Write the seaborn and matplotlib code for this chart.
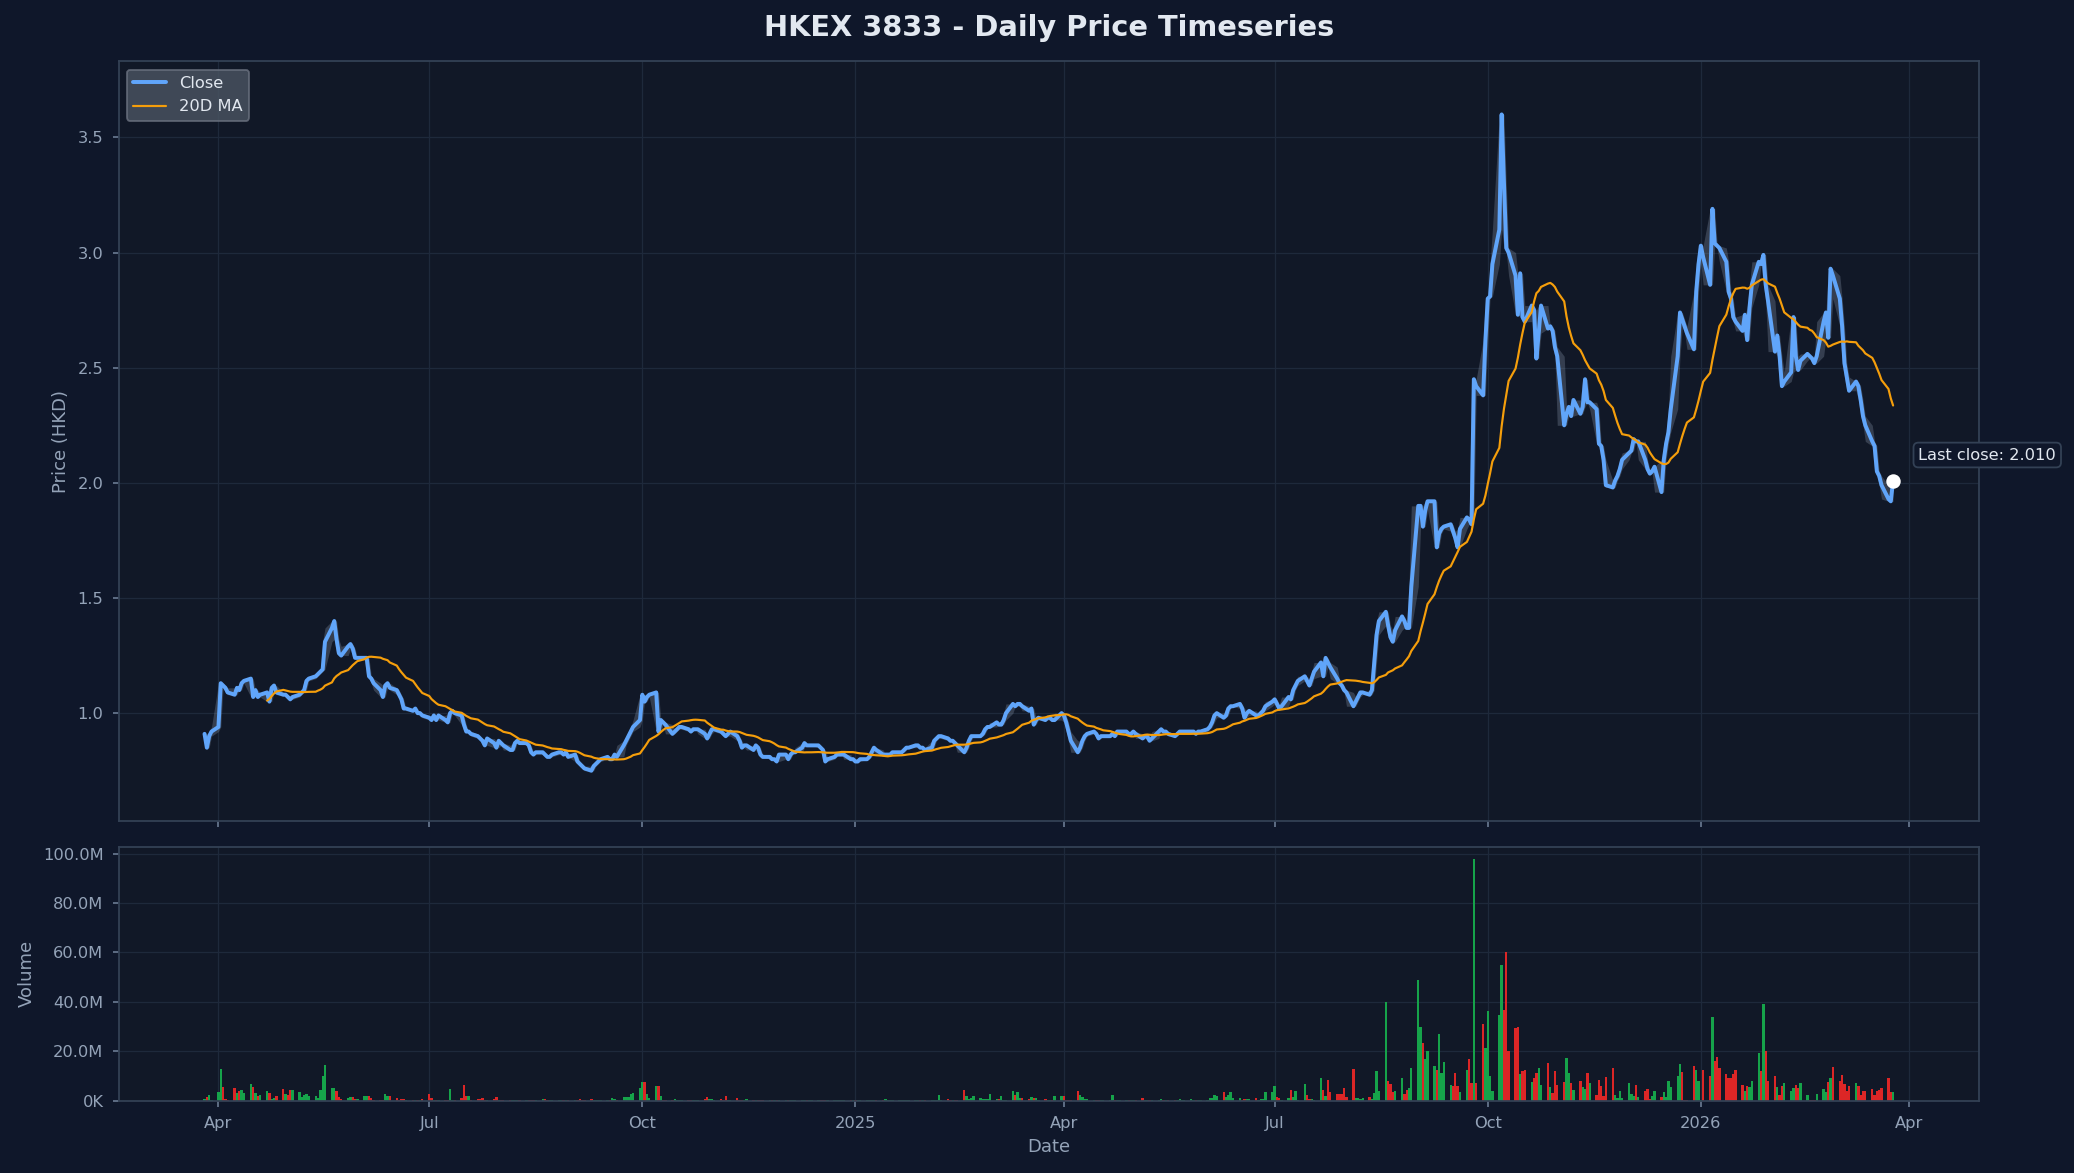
import matplotlib
matplotlib.use("Agg")
import matplotlib.pyplot as plt
import matplotlib.dates as mdates
from matplotlib.ticker import FuncFormatter
import numpy as np
import pandas as pd
import seaborn as sns

# daily close (HKD), business days, one line per month
close_2024 = [
    0.91, 0.85, 0.90, 0.92,  # Mar (from 26th)
    0.94, 1.13, 1.12, 1.11, 1.09, 1.08, 1.11, 1.10, 1.13, 1.14, 1.15, 1.07, 1.10, 1.07, 1.08, 1.09, 1.05, 1.11, 1.12, 1.09, 1.08, 1.08,
    1.07, 1.06, 1.07, 1.08, 1.09, 1.10, 1.14, 1.15, 1.16, 1.17, 1.18, 1.19, 1.31, 1.37, 1.40, 1.32, 1.26, 1.25, 1.29, 1.30, 1.28, 1.24, 1.24,
    1.24, 1.24, 1.16, 1.15, 1.13, 1.10, 1.07, 1.12, 1.13, 1.11, 1.10, 1.08, 1.06, 1.02, 1.02, 1.01, 1.02, 1.00, 1.00, 0.99,
    0.98, 0.97, 0.99, 0.97, 0.99, 0.97, 0.96, 1.00, 1.01, 1.00, 0.99, 0.95, 0.92, 0.92, 0.91, 0.90, 0.89, 0.88, 0.86, 0.89, 0.87, 0.85, 0.88,
    0.87, 0.86, 0.84, 0.84, 0.87, 0.88, 0.87, 0.87, 0.86, 0.83, 0.82, 0.83, 0.83, 0.82, 0.81, 0.81, 0.82, 0.83, 0.83, 0.82, 0.83, 0.81,
    0.82, 0.79, 0.78, 0.77, 0.76, 0.75, 0.77, 0.78, 0.79, 0.80, 0.81, 0.80, 0.80, 0.82, 0.81, 0.86, 0.88, 0.90, 0.92, 0.94, 0.97,
    1.08, 1.05, 1.07, 1.08, 1.09, 0.92, 0.97, 0.96, 0.95, 0.91, 0.92, 0.93, 0.94, 0.94, 0.93, 0.92, 0.93, 0.93, 0.93, 0.91, 0.89, 0.91, 0.93,
    0.93, 0.92, 0.91, 0.90, 0.91, 0.92, 0.90, 0.88, 0.85, 0.86, 0.86, 0.84, 0.86, 0.85, 0.82, 0.81, 0.81, 0.80, 0.80, 0.79, 0.82,
    0.82, 0.80, 0.82, 0.83, 0.83, 0.85, 0.87, 0.86, 0.86, 0.86, 0.86, 0.85, 0.84, 0.79, 0.80, 0.81, 0.82, 0.82, 0.82, 0.82, 0.80, 0.80,
]
close_2025 = [
    0.79, 0.79, 0.80, 0.80, 0.81, 0.83, 0.85, 0.84, 0.82, 0.82, 0.82, 0.82, 0.83, 0.83, 0.83, 0.84, 0.85, 0.85, 0.86, 0.86, 0.85, 0.85, 0.84,
    0.85, 0.88, 0.89, 0.90, 0.90, 0.89, 0.88, 0.88, 0.87, 0.86, 0.83, 0.85, 0.88, 0.90, 0.90, 0.90, 0.91, 0.93, 0.94, 0.94,
    0.96, 0.95, 0.95, 0.97, 1.00, 1.04, 1.03, 1.04, 1.04, 1.03, 1.01, 1.02, 0.95, 0.97, 0.98, 0.97, 0.98, 0.98, 0.97, 0.97, 1.00,
    0.99, 0.96, 0.92, 0.88, 0.83, 0.85, 0.88, 0.90, 0.91, 0.92, 0.91, 0.89, 0.90, 0.90, 0.90, 0.91, 0.90, 0.92, 0.92, 0.92, 0.91, 0.91,
    0.92, 0.91, 0.89, 0.90, 0.90, 0.88, 0.89, 0.92, 0.93, 0.92, 0.92, 0.91, 0.90, 0.91, 0.92, 0.92, 0.92, 0.92, 0.92, 0.91, 0.92, 0.92,
    0.93, 0.94, 0.96, 0.99, 1.00, 0.98, 0.99, 1.02, 1.03, 1.03, 1.04, 1.02, 0.98, 1.00, 1.01, 0.99, 0.99, 1.00, 1.01, 1.03, 1.05,
    1.06, 1.04, 1.02, 1.03, 1.07, 1.06, 1.10, 1.12, 1.14, 1.16, 1.14, 1.12, 1.15, 1.18, 1.22, 1.16, 1.24, 1.22, 1.20, 1.15, 1.13, 1.12, 1.10,
    1.09, 1.03, 1.05, 1.07, 1.09, 1.09, 1.08, 1.10, 1.22, 1.34, 1.40, 1.44, 1.38, 1.33, 1.31, 1.36, 1.42, 1.40, 1.37, 1.37, 1.55,
    1.90, 1.90, 1.81, 1.88, 1.92, 1.92, 1.72, 1.78, 1.80, 1.81, 1.82, 1.79, 1.76, 1.72, 1.80, 1.85, 1.84, 1.82, 2.45, 2.42, 2.38, 2.62,
    2.80, 2.81, 2.95, 3.10, 3.60, 3.30, 3.02, 3.00, 2.90, 2.73, 2.91, 2.72, 2.70, 2.77, 2.75, 2.54, 2.65, 2.77, 2.67, 2.68, 2.66, 2.59, 2.55,
    2.25, 2.30, 2.33, 2.29, 2.36, 2.30, 2.33, 2.45, 2.35, 2.35, 2.32, 2.17, 2.16, 2.10, 1.99, 1.98, 2.01, 2.03, 2.06, 2.10,
    2.13, 2.14, 2.19, 2.18, 2.18, 2.10, 2.06, 2.04, 2.05, 2.07, 1.96, 2.10, 2.17, 2.22, 2.32, 2.55, 2.74, 2.71, 2.68, 2.65, 2.58, 2.83, 2.95,
]
close_2026 = [
    3.03, 2.98, 2.86, 3.19, 3.04, 3.03, 3.02, 2.96, 2.83, 2.80, 2.72, 2.70, 2.66, 2.73, 2.62, 2.76, 2.86, 2.96, 2.95, 2.99, 2.86, 2.79,
    2.57, 2.64, 2.55, 2.42, 2.44, 2.48, 2.72, 2.55, 2.49, 2.53, 2.56, 2.55, 2.54, 2.52, 2.55, 2.70, 2.74, 2.63, 2.93, 2.90,
    2.80, 2.68, 2.52, 2.46, 2.40, 2.44, 2.42, 2.36, 2.29, 2.25, 2.18, 2.16, 2.05, 2.03, 1.99, 1.93, 1.92, 2.01,
]

# daily volume (millions of shares)
vol_2024 = [
    0.7, 1.3, 2.4, 0.3,
    3.4, 12.6, 5.3, 0.5, 0.4, 4.9, 3.0, 3.8, 4.1, 3.0, 6.5, 5.3, 3.0, 1.8, 2.4, 3.7, 3.0, 0.7, 1.0, 2.0, 4.5, 2.6,
    2.4, 4.1, 4.1, 3.3, 1.4, 2.4, 2.8, 2.0, 1.8, 1.2, 4.1, 9.8, 14.2, 4.9, 4.9, 3.8, 1.4, 0.7, 1.1, 1.4, 1.6, 0.7, 0.5,
    2.0, 2.0, 2.0, 1.0, 0.4, 0.2, 0.2, 2.7, 2.0, 2.0, 1.0, 0.2, 0.7, 0.7, 0.3, 0.3, 0.1, 0.4, 0.4, 0.7,
    2.7, 1.1, 0.4, 0.1, 0.1, 0.4, 0.1, 4.5, 0.4, 0.1, 1.1, 6.4, 2.0, 2.0, 0.1, 0.7, 0.7, 1.1, 0.4, 0.1, 0.7, 1.6, 0.1,
    0.1, 0.1, 0.4, 0.1, 0.1, 0.1, 0.1, 0.1, 0.1, 0.4, 0.1, 0.1, 0.7, 0.8, 0.4, 0.1, 0.1, 0.4, 0.1, 0.1, 0.1, 0.1,
    0.1, 0.1, 0.8, 0.1, 0.1, 0.8, 0.4, 0.1, 0.1, 0.1, 0.1, 0.1, 1.2, 0.8, 0.2, 1.6, 1.6, 1.4, 2.7, 3.0, 4.9,
    7.6, 7.3, 2.7, 1.0, 5.7, 5.7, 2.0, 0.4, 0.2, 0.4, 0.8, 0.4, 0.3, 0.1, 0.1, 0.1, 0.1, 0.1, 0.1, 0.7, 1.6, 0.8, 0.8,
    0.1, 0.8, 0.1, 1.9, 0.4, 0.1, 1.1, 0.1, 0.4, 0.1, 0.7, 0.1, 0.1, 0.1, 0.1, 0.1, 0.1, 0.1, 0.1, 0.1, 0.1,
    0.1, 0.1, 0.1, 0.1, 0.1, 0.4, 0.4, 0.4, 0.1, 0.1, 0.1, 0.1, 0.1, 0.1, 0.1, 0.1, 0.1, 0.1, 0.1, 0.1, 0.1, 0.1,
]
vol_2025 = [
    0.4, 0.1, 0.1, 0.1, 0.1, 0.1, 0.1, 0.1, 0.4, 0.8, 0.1, 0.1, 0.1, 0.1, 0.1, 0.1, 0.1, 0.1, 0.4, 0.1, 0.1, 0.1, 0.1,
    0.4, 0.4, 0.1, 2.4, 0.1, 0.8, 0.4, 0.1, 0.4, 0.1, 4.1, 2.0, 0.7, 1.1, 2.0, 1.2, 0.8, 0.8, 0.8, 2.8,
    0.8, 0.8, 2.0, 0.1, 0.1, 3.7, 2.4, 3.3, 1.2, 1.2, 0.8, 1.6, 1.2, 1.2, 0.1, 0.8, 0.4, 0.4, 0.1, 2.0, 2.0,
    2.0, 0.4, 0.1, 0.1, 3.7, 2.4, 1.4, 0.8, 0.8, 0.1, 0.1, 0.4, 0.1, 0.1, 0.4, 2.4, 0.1, 0.1, 0.1, 0.1, 0.1, 0.1,
    0.1, 0.1, 1.2, 0.1, 0.1, 0.4, 0.1, 0.1, 0.8, 0.4, 0.1, 0.1, 0.4, 0.4, 0.8, 0.1, 0.1, 0.8, 0.1, 0.1, 0.4, 0.1,
    0.4, 1.2, 1.2, 2.4, 2.0, 3.3, 1.6, 2.4, 3.3, 1.2, 1.2, 0.4, 0.8, 0.8, 0.8, 1.2, 0.4, 0.8, 0.8, 3.3, 3.3,
    5.7, 1.6, 1.2, 0.4, 1.2, 4.1, 1.6, 3.7, 0.4, 6.5, 2.4, 0.7, 0.8, 0.4, 9.0, 4.1, 2.0, 8.5, 3.3, 2.7, 2.7, 2.7, 4.9,
    1.6, 12.6, 1.1, 1.1, 0.8, 1.2, 1.6, 0.8, 3.0, 11.8, 3.7, 39.8, 8.1, 6.5, 3.3, 3.7, 9.0, 2.7, 4.1, 4.9, 13.3,
    49.0, 29.6, 23.2, 16.7, 20.0, 13.8, 12.2, 26.9, 11.0, 15.5, 6.1, 5.7, 11.0, 5.7, 3.3, 12.2, 16.7, 6.9, 97.7, 6.9, 30.9, 21.2,
    36.2, 9.8, 4.0, 34.6, 55.0, 36.6, 60.2, 20.0, 29.3, 29.7, 10.6, 11.8, 12.2, 7.3, 9.0, 11.0, 13.0, 6.1, 15.0, 5.3, 3.0, 11.8, 6.1,
    7.3, 17.1, 11.0, 6.9, 4.1, 7.7, 5.3, 4.5, 11.0, 6.9, 2.4, 8.5, 5.7, 2.0, 9.4, 13.0, 2.4, 1.2, 3.7, 1.2,
    6.9, 2.8, 2.0, 6.1, 1.6, 3.7, 4.5, 0.8, 2.0, 3.7, 1.6, 3.3, 1.6, 8.1, 5.3, 9.8, 14.7, 11.4, 0.2, 0.2, 13.8, 12.2, 8.1,
]
vol_2026 = [
    0.2, 12.2, 9.8, 33.8, 15.9, 17.5, 13.0, 10.6, 9.0, 9.0, 10.6, 12.2, 6.1, 3.7, 5.7, 5.3, 7.7, 19.1, 11.8, 39.0, 20.0, 7.7,
    9.8, 5.3, 2.4, 5.7, 6.9, 3.7, 4.9, 6.1, 4.9, 6.9, 2.4, 0.2, 0.2, 0.2, 2.8, 4.5, 3.3, 7.3, 9.0, 13.4,
    8.1, 10.2, 6.5, 3.7, 5.7, 6.9, 5.7, 2.4, 3.7, 3.7, 4.5, 2.4, 3.7, 4.1, 4.9, 9.0, 3.3, 3.3,
]

close = close_2024 + close_2025 + close_2026
volume = vol_2024 + vol_2025 + vol_2026
assert len(close) == len(volume)

BG = "#0f172a"
PANEL = "#111827"
GRID = "#1e293b"
EDGE = "#334155"
TICK = "#64748b"
MUTED = "#94a3b8"
TEXT = "#e2e8f0"
BLUE = "#60a5fa"
AMBER = "#f59e0b"
GREEN = "#16a34a"
RED = "#dc2626"

sns.set_theme(style="darkgrid", rc={
    "figure.facecolor": BG, "axes.facecolor": PANEL, "axes.edgecolor": EDGE,
    "axes.linewidth": 1.0, "grid.color": GRID, "grid.linewidth": 0.7,
    "axes.labelcolor": MUTED, "xtick.color": TICK, "ytick.color": TICK,
    "xtick.labelcolor": MUTED, "ytick.labelcolor": MUTED,
    "text.color": TEXT, "xtick.labelsize": 9, "ytick.labelsize": 9,
    "axes.labelsize": 10, "legend.fontsize": 9,
    "xtick.bottom": True, "ytick.left": True,
    "xtick.major.size": 3.5, "ytick.major.size": 3.5,
    "xtick.major.width": 1.0, "ytick.major.width": 1.0,
    "xtick.major.pad": 5, "ytick.major.pad": 5,
})
plt.rcParams["font.family"] = ["DejaVu Sans"]

df = pd.DataFrame({
    "Date": pd.bdate_range(end="2026-03-25", periods=len(close)),
    "Close": close,
    "Volume": np.array(volume) * 1e6,
})
df["MA20"] = df["Close"].rolling(20).mean()
df["lo"] = df["Close"].rolling(3, center=True, min_periods=1).min()
df["hi"] = df["Close"].rolling(3, center=True, min_periods=1).max()

fig, (ax, axv) = plt.subplots(
    2, 1, figsize=(2074 / 130, 1173 / 130), dpi=130, sharex=True,
    gridspec_kw=dict(height_ratios=[3, 1], hspace=0.051),
)
fig.subplots_adjust(left=0.0573, right=0.9541, top=0.9476, bottom=0.0618)

# price panel
ax.fill_between(df["Date"], df["lo"], df["hi"], color=MUTED, alpha=0.28, linewidth=0)
sns.lineplot(data=df, x="Date", y="Close", ax=ax, color=BLUE, linewidth=2.2,
             label="Close", errorbar=None)
sns.lineplot(data=df.dropna(subset=["MA20"]), x="Date", y="MA20", ax=ax, color=AMBER,
             linewidth=1.2, label="20D MA", errorbar=None)

last_d, last_c = df["Date"].iloc[-1], df["Close"].iloc[-1]
ax.plot(last_d, last_c, "o", color="white", markersize=7, zorder=5)
ax.annotate(f"Last close: {last_c:.3f}", (last_d, last_c), xytext=(14, 10),
            textcoords="offset points", fontsize=9, color=TEXT, ha="left", va="bottom",
            bbox=dict(boxstyle="round,pad=0.3", fc=BG, ec=EDGE, lw=1))

ax.set_ylim(0.53, 3.83)
ax.set_ylabel("Price (HKD)")
ax.set_xlabel("")
ax.set_title("HKEX 3833 - Daily Price Timeseries", fontsize=16, fontweight="bold",
             color=TEXT, pad=14)
ax.legend(loc="upper left", facecolor="#4b5563", edgecolor="#6b7280",
          framealpha=0.8, labelcolor=TEXT)

# volume panel
up = df["Close"].diff().fillna(0) >= 0
axv.bar(df["Date"], df["Volume"], width=1.0, color=np.where(up, GREEN, RED), linewidth=0)
axv.yaxis.set_major_formatter(FuncFormatter(
    lambda v, _: f"{v / 1e6:.1f}M" if v >= 1e6 else f"{v / 1e3:.0f}K"))
axv.set_ylabel("Volume")
axv.set_xlabel("Date")

loc = mdates.MonthLocator(bymonth=[1, 4, 7, 10])
axv.xaxis.set_major_locator(loc)
axv.xaxis.set_major_formatter(mdates.ConciseDateFormatter(loc))

for a in (ax, axv):
    for s in a.spines.values():
        s.set_color(EDGE)
        s.set_visible(True)

fig.savefig("out.png", dpi=130, facecolor=BG)
